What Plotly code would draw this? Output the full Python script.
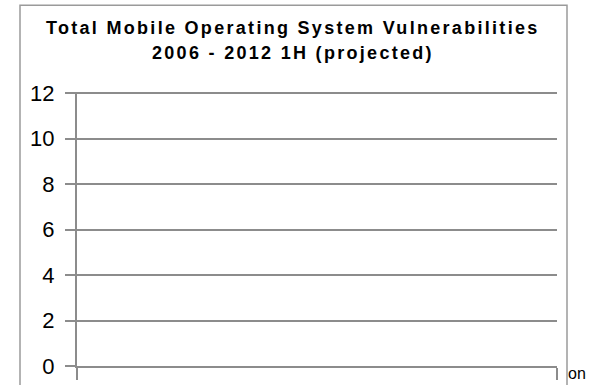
import plotly.graph_objects as go

# Chart content
title_lines = ["Total Mobile Operating System Vulnerabilities", "2006 - 2012 1H (projected)"]
heading = "Mobile Operating Vulnerability"
y_ticks = [0, 2, 4, 6, 8, 10, 12]
categories = [""]
values = [None]

W, H = 596, 385
L, R, B = 77, 557, 366          # plot area edges in pixels
Y_TOP = 12.05                   # a hair above the last tick so its gridline shows
T = B - (B - 93) * Y_TOP / 12   # keeps the 12 tick at y=93

GRID = "#8c8c8c"
FONT = "Liberation Sans, Arial, sans-serif"

fig = go.Figure()
fig.add_trace(go.Bar(x=[0.5], y=values, showlegend=False, hoverinfo="skip"))


def px_x(p):
    return (p - L) / (R - L)


def px_y(p):
    return (B - p) / (B - T)


fig.update_layout(
    width=W, height=H,
    margin=dict(l=L, r=W - R, t=T, b=H - B, pad=0, autoexpand=False),
    paper_bgcolor="white", plot_bgcolor="white",
    font=dict(family=FONT, color="black"),
    showlegend=False,
    xaxis=dict(
        range=[0, 1], tickvals=[0, 1], showticklabels=False,
        ticks="outside", ticklen=12, tickwidth=2, tickcolor=GRID,
        showline=True, linecolor=GRID, linewidth=2,
        showgrid=False, zeroline=False, fixedrange=True, automargin=False,
    ),
    yaxis=dict(
        range=[0, Y_TOP], tickvals=y_ticks, ticktext=[str(v) for v in y_ticks],
        ticks="outside", ticklen=10, tickwidth=2, tickcolor=GRID,
        tickfont=dict(size=22, family=FONT, color="black"),
        ticklabelstandoff=6,
        showline=True, linecolor=GRID, linewidth=2,
        showgrid=True, gridcolor=GRID, gridwidth=2,
        zeroline=False, fixedrange=True, automargin=False,
    ),
)

# chart frame (bottom runs past the page edge)
fig.add_shape(type="rect", xref="paper", yref="paper",
              x0=px_x(20), x1=px_x(567), y0=px_y(400), y1=px_y(5),
              line=dict(color="#9a9a9a", width=1.5), fillcolor="rgba(0,0,0,0)",
              layer="below")

# slide heading, mostly above the top edge
fig.add_annotation(xref="paper", yref="paper", x=px_x(368), y=px_y(1),
                   xanchor="center", yanchor="bottom", showarrow=False,
                   text=f"<b>{heading}</b>",
                   font=dict(size=21, family=FONT, color="black"))

for i, line in enumerate(title_lines):
    fig.add_annotation(xref="paper", yref="paper", x=px_x(293), y=px_y(28 + 25 * i),
                       xanchor="center", yanchor="middle", showarrow=False,
                       text=f"<span style='letter-spacing:2.3px'><b>{line}</b></span>",
                       font=dict(size=18, family=FONT, color="black"))

fig.add_annotation(xref="paper", yref="paper", x=px_x(566), y=px_y(374),
                   xanchor="left", yanchor="middle", showarrow=False,
                   text="on", font=dict(size=16, family=FONT, color="black"))

fig.write_html("out.html")
